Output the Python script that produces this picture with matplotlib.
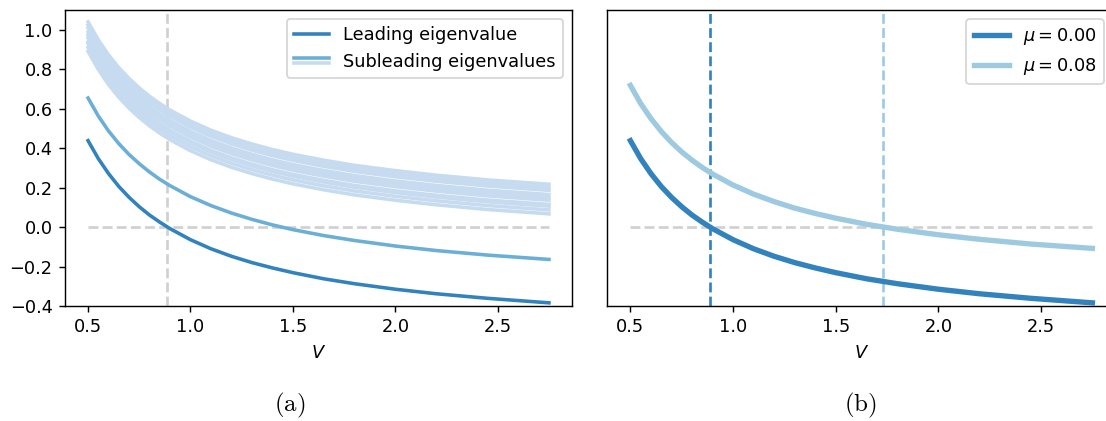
import matplotlib
matplotlib.use("Agg")
import matplotlib.pyplot as plt
from matplotlib.lines import Line2D
from matplotlib.legend_handler import HandlerBase

# V grid the curves were read at
V = [0.5, 0.55, 0.6, 0.65, 0.7, 0.75, 0.8, 0.85, 0.9, 1.0, 1.1, 1.2, 1.3, 1.4,
     1.5, 1.65, 1.8, 2.0, 2.2, 2.45, 2.75]

leading = [0.438, 0.347, 0.271, 0.206, 0.151, 0.103, 0.061, 0.025, -0.008, -0.064,
           -0.110, -0.148, -0.180, -0.207, -0.231, -0.262, -0.287, -0.315, -0.338,
           -0.361, -0.384]
second = [0.654, 0.563, 0.487, 0.423, 0.368, 0.321, 0.279, 0.242, 0.210, 0.154,
          0.109, 0.071, 0.039, 0.011, -0.013, -0.043, -0.068, -0.096, -0.119,
          -0.142, -0.164]
# band of the remaining subleading eigenvalues
others = [
    [1.040, 0.949, 0.872, 0.808, 0.753, 0.705, 0.663, 0.626, 0.593, 0.537, 0.491, 0.453, 0.421, 0.393, 0.369, 0.339, 0.313, 0.286, 0.263, 0.239, 0.217],
    [1.024, 0.933, 0.856, 0.792, 0.737, 0.689, 0.647, 0.610, 0.577, 0.521, 0.475, 0.437, 0.405, 0.377, 0.353, 0.323, 0.297, 0.270, 0.247, 0.223, 0.201],
    [1.009, 0.918, 0.841, 0.777, 0.722, 0.674, 0.632, 0.595, 0.562, 0.506, 0.460, 0.422, 0.390, 0.362, 0.338, 0.308, 0.282, 0.255, 0.232, 0.208, 0.186],
    [0.988, 0.897, 0.820, 0.756, 0.701, 0.653, 0.611, 0.574, 0.541, 0.485, 0.439, 0.401, 0.369, 0.341, 0.317, 0.287, 0.261, 0.234, 0.211, 0.187, 0.165],
    [0.973, 0.882, 0.805, 0.741, 0.686, 0.638, 0.596, 0.559, 0.526, 0.470, 0.424, 0.386, 0.354, 0.326, 0.302, 0.272, 0.246, 0.219, 0.196, 0.172, 0.150],
    [0.959, 0.868, 0.791, 0.727, 0.672, 0.624, 0.582, 0.545, 0.512, 0.456, 0.410, 0.372, 0.340, 0.312, 0.288, 0.258, 0.232, 0.205, 0.182, 0.158, 0.136],
    [0.938, 0.847, 0.770, 0.706, 0.651, 0.603, 0.561, 0.524, 0.491, 0.435, 0.389, 0.351, 0.319, 0.291, 0.267, 0.237, 0.211, 0.184, 0.161, 0.137, 0.115],
    [0.929, 0.838, 0.761, 0.697, 0.642, 0.594, 0.552, 0.515, 0.482, 0.426, 0.380, 0.342, 0.310, 0.282, 0.258, 0.228, 0.202, 0.175, 0.152, 0.128, 0.106],
    [0.910, 0.819, 0.742, 0.678, 0.623, 0.575, 0.533, 0.496, 0.463, 0.407, 0.361, 0.323, 0.291, 0.263, 0.239, 0.209, 0.183, 0.156, 0.133, 0.109, 0.087],
    [0.890, 0.799, 0.722, 0.658, 0.603, 0.555, 0.513, 0.476, 0.443, 0.387, 0.341, 0.303, 0.271, 0.243, 0.219, 0.189, 0.163, 0.136, 0.113, 0.089, 0.067],
]
mu00 = leading
mu08 = [0.718, 0.626, 0.550, 0.485, 0.429, 0.381, 0.339, 0.302, 0.269, 0.213,
        0.167, 0.129, 0.096, 0.069, 0.045, 0.014, -0.011, -0.039, -0.062,
        -0.086, -0.108]
mu_labels = [r"$\mu = 0.00$", r"$\mu = 0.08$"]
V_crit = [0.886, 1.730]

c_lead = "#3182bd"
c_sub = "#6baed6"
c_band = "#c6dbef"
c_mu08 = "#9ecae1"
c_grey = "#d0d0d0"


class StackedLines(HandlerBase):
    # two lines on top of each other in one legend entry
    def create_artists(self, legend, orig_handle, xdescent, ydescent,
                       width, height, fontsize, trans):
        yc = height / 2 - ydescent
        out = []
        for h, dy in zip(orig_handle, [0.2 * height, -0.2 * height]):
            ln = Line2D([-xdescent, width - xdescent], [yc + dy, yc + dy],
                        color=h.get_color(), lw=h.get_linewidth())
            ln.set_transform(trans)
            out.append(ln)
        return out


dpi = 128
fig = plt.figure(figsize=(1106 / dpi, 421 / dpi), dpi=dpi)
ax1 = fig.add_axes([65 / 1106, 115 / 421, 507 / 1106, 296 / 421])
ax2 = fig.add_axes([607.3 / 1106, 115 / 421, 508.2 / 1106, 296 / 421])

# (a)
ax1.hlines(0, V[0], V[-1], colors=c_grey, linestyles="--", lw=1.5, zorder=1)
ax1.axvline(V_crit[0], color=c_grey, ls="--", lw=1.5, zorder=1)
for row in others:
    ax1.plot(V, row, color=c_band, lw=2, zorder=2)
ax1.plot(V, second, color=c_sub, lw=2, zorder=3)
ax1.plot(V, leading, color=c_lead, lw=2, zorder=3)
ax1.set_ylim(-0.4, 1.1)
ax1.set_xticks([0.5, 1.0, 1.5, 2.0, 2.5])
ax1.set_xlabel(r"$V$")
h_lead = Line2D([], [], color=c_lead, lw=2)
h_sub = Line2D([], [], color=c_sub, lw=2)
h_band = Line2D([], [], color=c_band, lw=2)
ax1.legend([h_lead, (h_sub, h_band)], ["Leading eigenvalue", "Subleading eigenvalues"],
           loc="upper right", handler_map={tuple: StackedLines()})

# (b)
ax2.hlines(0, V[0], V[-1], colors=c_grey, linestyles="--", lw=1.5, zorder=1)
ax2.axvline(V_crit[0], color=c_lead, ls="--", lw=1.5, zorder=1)
ax2.axvline(V_crit[1], color=c_mu08, ls="--", lw=1.5, zorder=1)
ax2.plot(V, mu00, color=c_lead, lw=3, label=mu_labels[0], zorder=3)
ax2.plot(V, mu08, color=c_mu08, lw=3, label=mu_labels[1], zorder=3)
ax2.set_ylim(-0.4, 1.1)
ax2.set_yticks([])
ax2.set_xticks([0.5, 1.0, 1.5, 2.0, 2.5])
ax2.set_xlabel(r"$V$")
ax2.legend(loc="upper right", bbox_to_anchor=(1104 / 1106, 1 - 19.3 / 421),
           bbox_transform=fig.transFigure, borderaxespad=0)

fig.text(290 / 1106, 1 - 405 / 421, r"$\mathrm{(a)}$", math_fontfamily="cm",
         fontsize=14, ha="center", va="center")
fig.text(860 / 1106, 1 - 405 / 421, r"$\mathrm{(b)}$", math_fontfamily="cm",
         fontsize=14, ha="center", va="center")

fig.savefig("out.png", dpi=dpi)
